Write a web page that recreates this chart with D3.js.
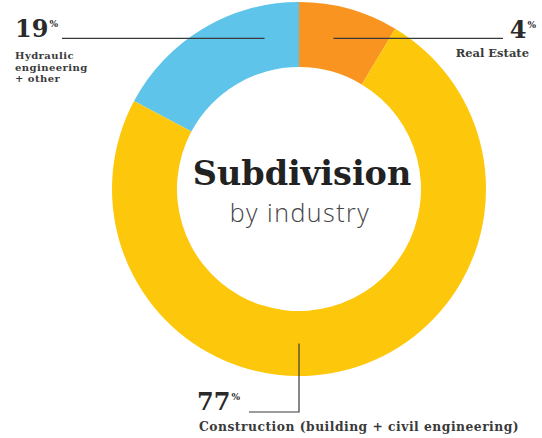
<!DOCTYPE html>
<html>
<head>
<meta charset="utf-8">
<script src="https://cdn.jsdelivr.net/npm/d3@7"></script>
<style>
  body { margin: 0; background: #fff; }
  svg { display: block; }
</style>
</head>
<body>
<div class="chart"></div>
<script>
// data
var categories = ["Hydraulic engineering + other", "Real Estate", "Construction (building + civil engineering)"];
var labelLines = [["Hydraulic", "engineering", "+ other"], ["Real Estate"], ["Construction (building + civil engineering)"]];
var percentLabels = [19, 4, 77];
// share of the ring as it is actually drawn (degrees of arc / 360)
var arcShares = [17.2, 8.6, 74.2];
var colors = ["#5ec4ea", "#f8941f", "#fdc70c"];

var svgWidth = 542;
var svgHeight = 438;
var cx = 299, cy = 189;
var outerR = 187, innerR = 122;
var midR = (outerR + innerR) / 2;

var svg = d3.select(".chart")
  .append("svg")
  .attr("width", svgWidth)
  .attr("height", svgHeight);

svg.append("rect").attr("width", svgWidth).attr("height", svgHeight).attr("fill", "#fff");

var chart = svg.append("g").attr("transform", "translate(" + cx + "," + cy + ")");

var total = d3.sum(arcShares);
var firstAngle = arcShares[0] / total * 2 * Math.PI;

var pie = d3.pie()
  .sort(null)
  .value(function(d) { return d; })
  .startAngle(-firstAngle)
  .endAngle(2 * Math.PI - firstAngle);

var arc = d3.arc().innerRadius(innerR).outerRadius(outerR);

var arcs = pie(arcShares);

chart.selectAll("path.slice")
  .data(arcs)
  .enter()
  .append("path")
  .attr("class", "slice")
  .attr("d", arc)
  .attr("fill", function(d, i) { return colors[i]; });

// leader lines, anchored in the middle of the ring
var anchorAngles = [-0.225, 0.225, Math.PI];
var anchors = anchorAngles.map(function(a) {
  var p = d3.pointRadial(a, midR);
  return [cx + p[0], cy + p[1]];
});

var lineColor = "#3a3a3a";
var leader = [
  [[62, anchors[0][1]], anchors[0]],
  [anchors[1], [503, anchors[1][1]]],
  [anchors[2], [anchors[2][0], 412], [249, 412]]
];

svg.selectAll("path.leader")
  .data(leader)
  .enter()
  .append("path")
  .attr("class", "leader")
  .attr("d", d3.line())
  .attr("fill", "none")
  .attr("stroke", lineColor)
  .attr("stroke-width", 1.2);

// percent labels
var numFont = "'DejaVu Serif', serif";
var pctPos = [
  { x: 15, y: 37, anchor: "start" },
  { x: 536, y: 38, anchor: "end" },
  { x: 197, y: 410, anchor: "start" }
];

pctPos.forEach(function(p, i) {
  var t = svg.append("text")
    .attr("x", p.x)
    .attr("y", p.y)
    .attr("text-anchor", p.anchor)
    .style("font-family", numFont)
    .style("font-weight", "bold")
    .style("font-size", "24px")
    .attr("fill", "#2a2a2a")
    .text(percentLabels[i]);
  t.append("tspan")
    .attr("dy", -10)
    .attr("dx", 1)
    .style("font-size", "9px")
    .text("%");
});

// category labels
var catPos = [
  { x: 15, y: 59, anchor: "start", size: 10, spacing: 0.45 },
  { x: 529, y: 57, anchor: "end", size: 11.5, spacing: 0 },
  { x: 199, y: 431, anchor: "start", size: 12.3, spacing: 0.5 }
];

catPos.forEach(function(p, i) {
  svg.append("text")
    .attr("text-anchor", p.anchor)
    .style("font-family", numFont)
    .style("font-weight", "bold")
    .style("font-size", p.size + "px")
    .style("letter-spacing", p.spacing + "px")
    .attr("fill", "#3a3a3a")
    .selectAll("tspan")
    .data(labelLines[i])
    .enter()
    .append("tspan")
    .attr("x", p.x)
    .attr("y", function(d, j) { return p.y + j * 11.5; })
    .text(function(d) { return d; });
});

// centre title
chart.append("text")
  .attr("x", 3)
  .attr("y", -4)
  .attr("text-anchor", "middle")
  .style("font-family", numFont)
  .style("font-weight", "bold")
  .style("font-size", "33.5px")
  .attr("fill", "#222")
  .text("Subdivision");

chart.append("text")
  .attr("x", 1)
  .attr("y", 33)
  .attr("text-anchor", "middle")
  .style("font-family", "'Open Sans', Lato, sans-serif")
  .style("font-weight", 300)
  .style("font-size", "25px")
  .style("letter-spacing", "1.5px")
  .attr("fill", "#444")
  .text("by industry");
</script>
</body>
</html>
